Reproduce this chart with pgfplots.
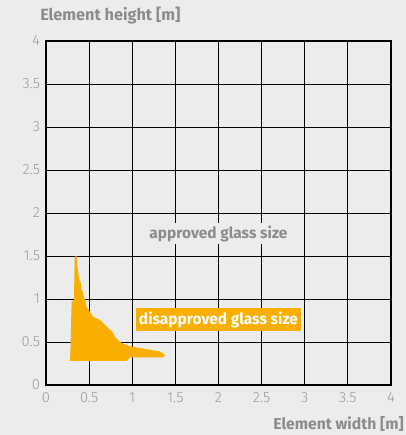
\documentclass[border=0pt]{standalone}
\usepackage{fontspec}
\setmainfont{Fira Sans}
\newfontfamily\lightfont{Fira Sans Light}
\usepackage{pgfplots}
\pgfplotsset{compat=1.18}
\definecolor{bg}{HTML}{EBECEB}
\definecolor{txt}{HTML}{8C8C8C}
\definecolor{tick}{HTML}{9A9A9A}
\definecolor{amber}{HTML}{F9AF00}
\begin{document}
\begin{tikzpicture}[x=1pt,y=1pt]
\fill[bg] (-34.5,-37.5) rectangle (270,288.75);
\begin{axis}[
  at={(0,0)}, anchor=origin,
  scale only axis, width=258.75pt, height=258pt,
  xmin=0, xmax=4, ymin=0, ymax=4,
  xtick={0,0.5,...,4}, ytick={0,0.5,...,4},
  grid=major, grid style={black, line width=0.6pt},
  axis line style={black, line width=0.8pt},
  major tick length=0pt,
  tick label style={font=\lightfont\fontsize{11}{12}\selectfont\color{tick}},
  /pgf/number format/assume math mode=true,
  xticklabel style={yshift=-2pt},
  yticklabel style={xshift=-1pt},
  clip=false,
]
\addplot[fill=amber, draw=none] coordinates {
 (0.278,0.28) (0.286,0.485) (0.297,0.97) (0.325,0.99) (0.332,1.49)
 (0.356,1.50) (0.363,1.395) (0.375,1.30) (0.386,1.22) (0.40,1.20) (0.414,1.10)
 (0.43,1.08) (0.44,1.01) (0.455,0.99)
 (0.47,0.91) (0.51,0.85) (0.55,0.79) (0.60,0.77) (0.626,0.756) (0.684,0.70)
 (0.742,0.64) (0.77,0.62) (0.80,0.56) (0.858,0.50) (0.90,0.48) (0.974,0.45) (1.09,0.43)
 (1.206,0.41) (1.32,0.39) (1.38,0.35) (1.36,0.32) (0.974,0.32)
 (0.94,0.28) (0.278,0.28)
};
\node[fill=bg, text=txt, font=\bfseries\fontsize{11.6}{13}\selectfont, inner sep=2pt] at (axis cs:2.0,1.76) {approved glass size};
\node[fill=amber, text=white, font=\bfseries\fontsize{11.6}{13}\selectfont, inner sep=2.5pt] at (axis cs:2.0,0.76) {disapproved glass size};
\end{axis}
\node[anchor=base west, text=txt, font=\bfseries\fontsize{12.2}{14}\selectfont, inner sep=0pt] at (-4.5,273) {Element height [m]};
\node[anchor=base east, text=txt, font=\bfseries\fontsize{11.8}{14}\selectfont, inner sep=0pt] at (268.5,-33) {Element width [m]};
\pgfresetboundingbox
\useasboundingbox (-34.5,-37.5) rectangle (270,288.75);
\end{tikzpicture}
\end{document}
